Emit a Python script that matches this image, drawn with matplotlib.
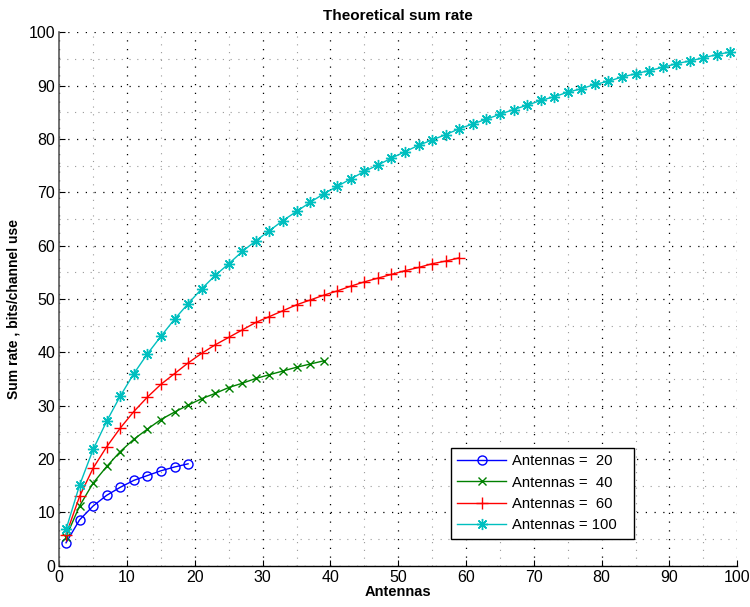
import matplotlib
matplotlib.use("Agg")
import matplotlib.pyplot as plt
from matplotlib.ticker import MultipleLocator

plt.rcParams['font.family'] = ['Liberation Sans', 'DejaVu Sans']

# Sum rate curves, one per antenna count (x = number of users, odd values)
users_20 = list(range(1, 20, 2))
rate_20 = [4.3, 8.6, 11.2, 13.2, 14.7, 16.0, 16.9, 17.8, 18.5, 19.1]

users_40 = list(range(1, 40, 2))
rate_40 = [5.4, 11.2, 15.5, 18.6, 21.4, 23.7, 25.6, 27.4, 28.8, 30.1,
           31.3, 32.3, 33.4, 34.2, 35.1, 35.8, 36.5, 37.2, 37.8, 38.4]

users_60 = list(range(1, 60, 2))
rate_60 = [5.8, 13.0, 18.3, 22.3, 25.8, 28.9, 31.6, 34.0, 36.0, 38.0,
           39.8, 41.4, 42.8, 44.2, 45.6, 46.7, 47.8, 48.9, 49.8, 50.7,
           51.5, 52.4, 53.2, 53.9, 54.6, 55.3, 55.9, 56.6, 57.1, 57.7]

users_100 = list(range(1, 100, 2))
rate_100 = [6.8, 15.1, 21.8, 27.1, 31.8, 36.0, 39.7, 43.0, 46.2, 49.1,
            51.9, 54.4, 56.6, 58.9, 60.9, 62.8, 64.7, 66.4, 68.1, 69.7,
            71.1, 72.5, 73.9, 75.1, 76.4, 77.6, 78.8, 79.8, 80.8, 81.9,
            82.8, 83.7, 84.6, 85.5, 86.3, 87.2, 87.9, 88.75, 89.4, 90.2,
            90.8, 91.6, 92.2, 92.8, 93.4, 94.1, 94.6, 95.2, 95.8, 96.3]

labels = ['Antennas =  20', 'Antennas =  40', 'Antennas =  60', 'Antennas = 100']

fig = plt.figure(figsize=(7.5, 6.07), dpi=100)
ax = fig.add_axes([0.079, 0.068, 0.904, 0.879])

asterisk = (8, 2, 0)
ax.plot(users_20, rate_20, color='blue', marker='o', markersize=6.5,
        markerfacecolor='none', lw=1, label=labels[0])
ax.plot(users_40, rate_40, color=(0, 0.5, 0), marker='x', markersize=5.5,
        lw=1, label=labels[1])
ax.plot(users_60, rate_60, color='red', marker='+', markersize=8.5,
        lw=1, label=labels[2])
ax.plot(users_100, rate_100, color=(0, 0.75, 0.75), marker=asterisk,
        markersize=8, lw=1, label=labels[3])

ax.set_xlim(0, 100)
ax.set_ylim(0, 100)
ax.xaxis.set_major_locator(MultipleLocator(10))
ax.yaxis.set_major_locator(MultipleLocator(10))
ax.xaxis.set_minor_locator(MultipleLocator(5))
ax.yaxis.set_minor_locator(MultipleLocator(5))

ax.grid(which='major', color='black', linestyle=(0, (1, 6)), lw=0.9)
ax.grid(which='minor', color='0.6', linestyle=(0, (1, 6)), lw=0.8)
ax.set_axisbelow(True)

ax.spines['top'].set_visible(False)
ax.spines['right'].set_visible(False)
ax.spines['left'].set_color('0.35')
ax.spines['left'].set_linewidth(1.2)
ax.spines['bottom'].set_linewidth(1.0)
ax.tick_params(which='major', direction='in', length=4, labelsize=11.5,
               pad=3)
ax.tick_params(which='minor', length=0)

ax.set_title('Theoretical sum rate', fontsize=11, fontweight='bold', pad=9)
ax.set_xlabel('Antennas', fontsize=10.5, fontweight='bold', labelpad=0)
ax.set_ylabel('Sum rate , bits/channel use', fontsize=10,
              fontweight='bold')
ax.yaxis.set_label_coords(-0.057, 0.482)

leg = ax.legend(loc='lower left', bbox_to_anchor=(0.578, 0.0506, 0.27, 0.17),
                mode='expand', borderaxespad=0, fontsize=10.7,
                handlelength=3.3, labelspacing=0.5, fancybox=False,
                framealpha=1, edgecolor='black', borderpad=0.42,
                handletextpad=0.4)
leg.get_frame().set_linewidth(1.0)

fig.savefig('out.png', dpi=100)
